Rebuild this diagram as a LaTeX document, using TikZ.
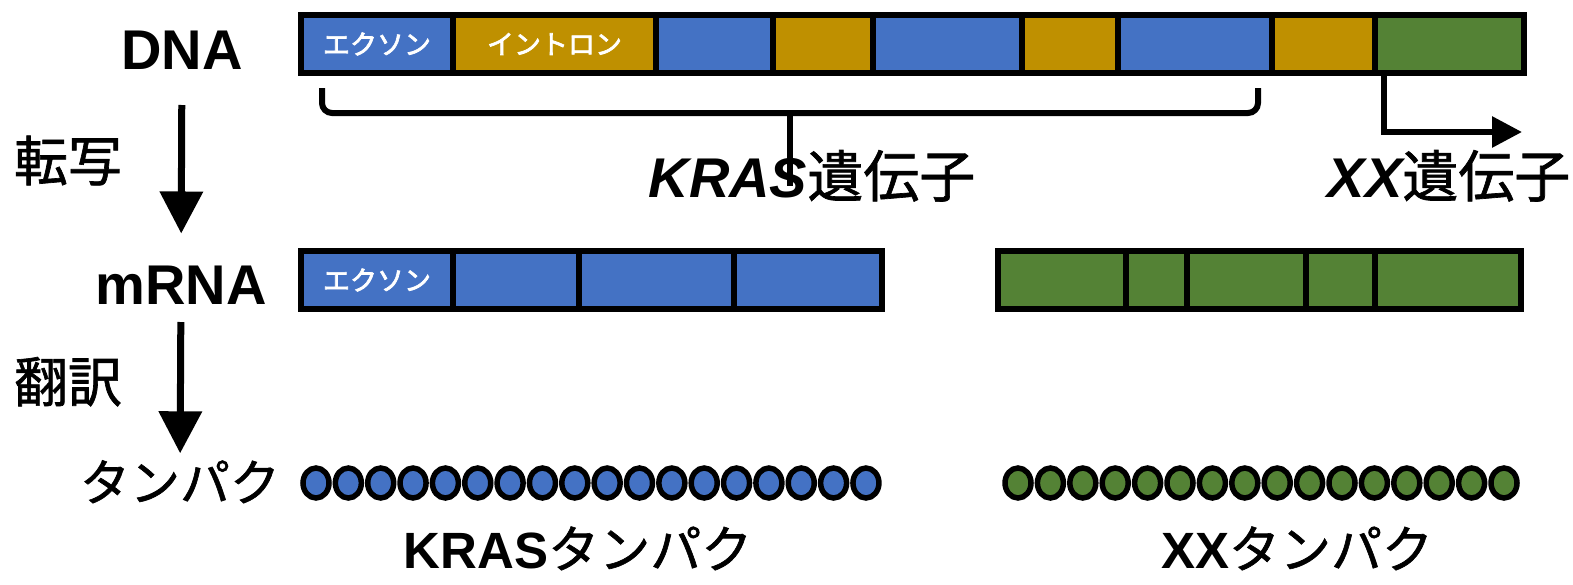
\documentclass[tikz,border=0pt]{standalone}
\usepackage{fontspec}
\setmainfont{Liberation Sans}
\newfontfamily\jp{Noto Sans CJK JP}[FakeBold=1.2]
\newfontfamily\jpb{Noto Sans CJK JP}[FakeBold=2.5]
\usetikzlibrary{arrows.meta,shapes.geometric}
\definecolor{exblue}{HTML}{4472C4}
\definecolor{ingold}{HTML}{BF9000}
\definecolor{xxgreen}{HTML}{548235}
\tikzset{
  seg/.style={draw=black, line width=6pt, inner sep=0pt, outer sep=0pt, minimum height=58pt, text=white, font=\jpb\fontsize{27}{27}\selectfont},
  bead/.style={ellipse, draw=black, line width=5.5pt, inner sep=0pt, minimum width=26pt, minimum height=30pt},
  biglabel/.style={inner sep=0pt, outer sep=0pt, anchor=base, font=\bfseries\fontsize{56}{56}\selectfont},
  jplabel/.style={inner sep=0pt, outer sep=0pt, anchor=base, font=\jp\fontsize{50}{50}\selectfont},
  steplabel/.style={inner sep=0pt, outer sep=0pt, anchor=base, font=\jp\fontsize{54}{54}\selectfont},
  genelabel/.style={inner sep=0pt, outer sep=0pt, anchor=base, font=\fontsize{56}{56}\selectfont},
  protlabel/.style={inner sep=0pt, outer sep=0pt, anchor=base, font=\fontsize{51}{51}\selectfont},
  flowarrow/.style={line width=7pt, -{Triangle[length=42pt,width=42pt]}},
  bracketline/.style={line width=6pt, rounded corners=10pt},
}
\begin{document}
\begin{tikzpicture}[x=1pt,y=-1pt]
\useasboundingbox (0,0) rectangle (1573,584);
% left labels
\node[biglabel] (dna) at (182,69) {DNA};
\node[biglabel] (mrna) at (181,304) {mRNA};
\node[jplabel] (prot) at (180,501) {タンパク};
\node[steplabel] (tensha) at (68,181) {転写};
\node[steplabel] (honyaku) at (68,402) {翻訳};
\draw[flowarrow, shorten <=36pt, shorten >=32pt] (dna) -- (mrna);
\draw[flowarrow, shorten <=18pt, shorten >=7pt] (mrna) -- (prot);
% DNA bar
\node[seg, fill=exblue, minimum width=152pt] (d1) at (377,44) {エクソン};
\node[seg, fill=ingold, minimum width=203pt] (d2) at (554.5,44) {イントロン};
\node[seg, fill=exblue, minimum width=117pt] (d3) at (714.5,44) {};
\node[seg, fill=ingold, minimum width=100pt] (d4) at (823,44) {};
\node[seg, fill=exblue, minimum width=149pt] (d5) at (947.5,44) {};
\node[seg, fill=ingold, minimum width=96pt] (d6) at (1070,44) {};
\node[seg, fill=exblue, minimum width=154pt] (d7) at (1195,44) {};
\node[seg, fill=ingold, minimum width=103pt] (d8) at (1323.5,44) {};
\node[seg, fill=xxgreen, minimum width=149pt] (d9) at (1449.5,44) {};
% bracket
\coordinate (brl) at (322,88);
\coordinate (brr) at (1258,88);
\coordinate (brm) at (790,113);
\coordinate (brs) at (790,186);
\draw[bracketline] (brl) |- (brm) -| (brr);
\draw[line width=6pt] (brm) -- (brs);
% gene labels
\node[genelabel] (krasgene) at (812,197) {{\bfseries\itshape KRAS}{\jp 遺伝子}};
\node[genelabel] (xxgene) at (1449,197) {{\bfseries\itshape XX}{\jp 遺伝子}};
% XX arrow
\coordinate (xs) at (1384,73);
\coordinate (xe) at (1522,132);
\draw[line width=6pt, -{Triangle[length=30pt,width=30pt]}] (xs) |- (xe);
% mRNA bars
\node[seg, fill=exblue, minimum width=152pt] (m1) at (377,280) {エクソン};
\node[seg, fill=exblue, minimum width=126pt] (m2) at (516,280) {};
\node[seg, fill=exblue, minimum width=155pt] (m3) at (656.5,280) {};
\node[seg, fill=exblue, minimum width=148pt] (m4) at (808,280) {};
\node[seg, fill=xxgreen, minimum width=128pt] (x1) at (1062,280) {};
\node[seg, fill=xxgreen, minimum width=61pt] (x2) at (1156.5,280) {};
\node[seg, fill=xxgreen, minimum width=119pt] (x3) at (1246.5,280) {};
\node[seg, fill=xxgreen, minimum width=69pt] (x4) at (1340.5,280) {};
\node[seg, fill=xxgreen, minimum width=146pt] (x5) at (1448,280) {};
% beads
\foreach \i in {0,...,17} \node[bead, fill=exblue] (k\i) at ({316+\i*32.35},483) {};
\foreach \i in {0,...,15} \node[bead, fill=xxgreen] (g\i) at ({1018+\i*32.4},483) {};
% protein labels
\node[protlabel] (krasprot) at (578,568) {{\bfseries KRAS}{\jp タンパク}};
\node[protlabel] (xxprot) at (1297,568) {{\bfseries XX}{\jp タンパク}};
\end{tikzpicture}
\end{document}
